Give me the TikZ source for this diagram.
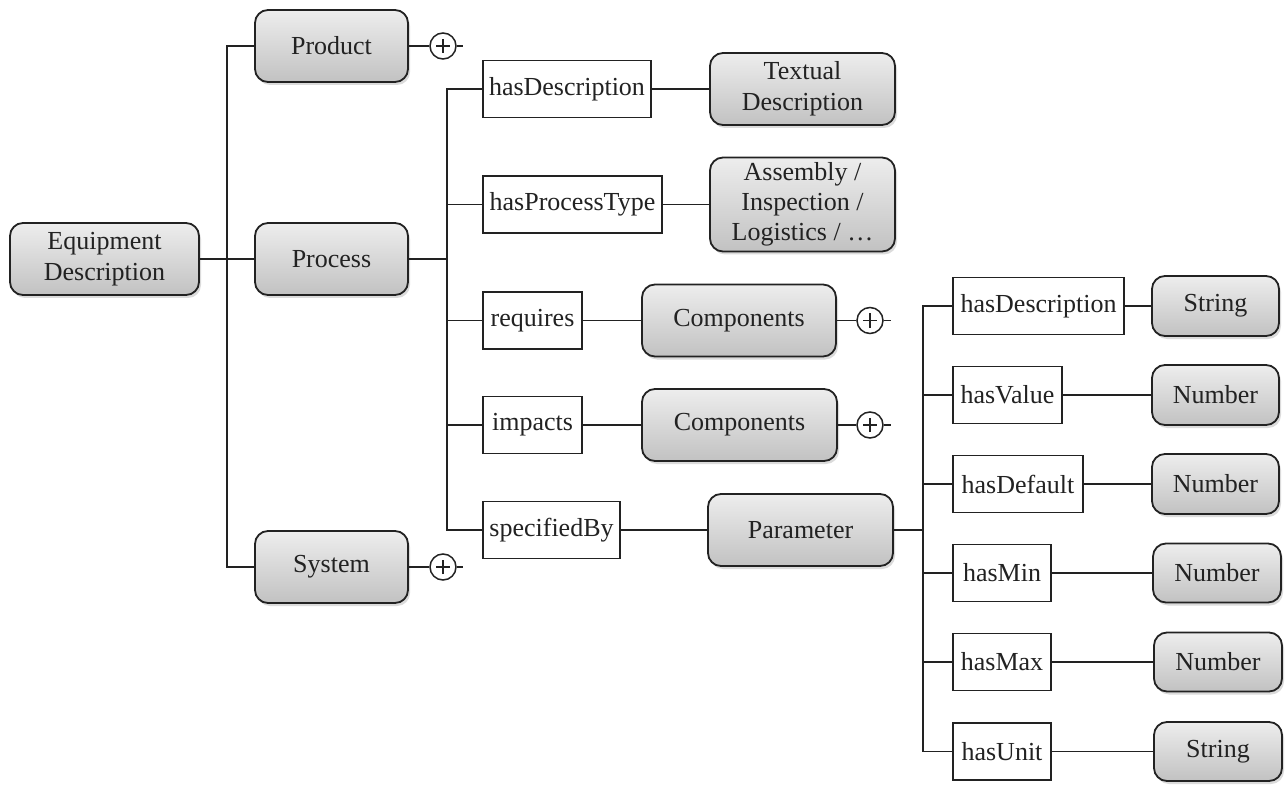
\documentclass[tikz,border=0pt]{standalone}
\usepackage{fontspec}
\setmainfont{Liberation Serif}
\usetikzlibrary{shadows}
\definecolor{ink}{HTML}{222222}
\tikzset{
  label font/.style={font=\fontsize{26}{31}\selectfont, text=ink, align=center},
  concept/.style={label font, draw=ink, line width=1.8pt, rounded corners=13pt,
    top color=gray!14, bottom color=gray!48, inner sep=0pt,
    drop shadow={shadow xshift=2pt, shadow yshift=-3pt, opacity=0.35, fill=gray!80}},
  relation/.style={label font, draw=ink, line width=1.6pt, fill=white, inner sep=0pt},
  link/.style={draw=ink, line width=1.6pt},
  trunk/.style={draw=ink, line width=2.6pt},
  more/.style={circle, draw=ink, line width=1.5pt, minimum size=26pt, inner sep=0pt, fill=white,
    path picture={
      \draw[ink, line width=1.4pt] ([xshift=-7pt]path picture bounding box.center) -- ([xshift=7pt]path picture bounding box.center);
      \draw[ink, line width=1.4pt] ([yshift=-7pt]path picture bounding box.center) -- ([yshift=7pt]path picture bounding box.center);
    }},
}
\begin{document}
\begin{tikzpicture}[x=1pt, y=-1pt]
\useasboundingbox[fill=white] (0,0) rectangle (1285,786);

% root and first level
\node[concept, minimum width=189pt, minimum height=72pt] (eq) at (104.5,259) {Equipment\\Description};
\node[concept, minimum width=153pt, minimum height=72pt] (product) at (331.5,46) {Product};
\node[concept, minimum width=153pt, minimum height=72pt] (process) at (331.5,259) {Process};
\node[concept, minimum width=153pt, minimum height=72pt] (system) at (331.5,567) {System};

% process relations
\node[relation, minimum width=168pt, minimum height=57pt] (hd1) at (567,89) {hasDescription};
\node[relation, minimum width=179pt, minimum height=57pt] (hpt) at (572.5,204.5) {hasProcessType};
\node[relation, minimum width=99pt, minimum height=57pt] (req) at (532.5,320.5) {requires};
\node[relation, minimum width=99pt, minimum height=57pt] (imp) at (532.5,425) {impacts};
\node[relation, minimum width=137pt, minimum height=57pt] (spec) at (551.5,530) {specifiedBy};

\node[concept, minimum width=185pt, minimum height=72pt] (txt) at (802.5,89) {Textual\\Description};
\node[concept, minimum width=185pt, minimum height=94pt, font=\fontsize{26}{30}\selectfont] (asm) at (802.5,204.5) {Assembly /\\Inspection /\\Logistics / …};
\node[concept, minimum width=194pt, minimum height=72pt] (comp1) at (739,320.5) {Components};
\node[concept, minimum width=195pt, minimum height=72pt] (comp2) at (739.5,425) {Components};
\node[concept, minimum width=185pt, minimum height=72pt] (param) at (800.5,530) {Parameter};

% parameter relations
\node[relation, minimum width=171pt, minimum height=57pt] (hd2) at (1038.5,306) {hasDescription};
\node[relation, minimum width=109pt, minimum height=57pt] (hv) at (1007.5,395) {hasValue};
\node[relation, minimum width=130pt, minimum height=57pt] (hdef) at (1018,484) {hasDefault};
\node[relation, minimum width=98pt, minimum height=57pt] (hmin) at (1002,573) {hasMin};
\node[relation, minimum width=98pt, minimum height=57pt] (hmax) at (1002,662) {hasMax};
\node[relation, minimum width=98pt, minimum height=57pt] (hu) at (1002,751.5) {hasUnit};

\node[concept, minimum width=127pt, minimum height=60pt] (str1) at (1215.5,306) {String};
\node[concept, minimum width=127pt, minimum height=60pt] (n1) at (1215.5,395) {Number};
\node[concept, minimum width=127pt, minimum height=60pt] (n2) at (1215.5,484) {Number};
\node[concept, minimum width=128pt, minimum height=59pt] (n3) at (1217,573) {Number};
\node[concept, minimum width=128pt, minimum height=59pt] (n4) at (1218,662) {Number};
\node[concept, minimum width=128pt, minimum height=59pt] (str2) at (1218,751.5) {String};

% expansion markers
\node[more] (p1) at (443,46) {};
\node[more] (p2) at (443,567) {};
\node[more] (p3) at (870,320.5) {};
\node[more] (p4) at (870,425) {};
\coordinate (e1) at (463,46);
\coordinate (e2) at (463,567);
\coordinate (e3) at (891,320.5);
\coordinate (e4) at (891,425);

% bus junctions
\coordinate (jE) at (227,259);
\coordinate (tS) at (227,567);
\coordinate (bBot) at (447,530);
\coordinate (qBot) at (923,751.5);

% first level tree
\draw[trunk] (eq.east) -- (jE);
\draw[link] (product.west) -| (tS) -- (system.west);
\draw[link] (jE) -- (process.west);

% process tree
\draw[trunk] (process.east) -- (process.east -| bBot);
\draw[link] (hd1.west) -| (bBot) -- (spec.west);
\draw[link] (hpt.west) -- (hpt.west -| bBot);
\draw[link] (req.west) -- (req.west -| bBot);
\draw[link] (imp.west) -- (imp.west -| bBot);
\draw[link] (hd1.east) -- (txt.west);
\draw[link] (hpt.east) -- (asm.west);
\draw[link] (req.east) -- (comp1.west);
\draw[link] (imp.east) -- (comp2.west);
\draw[link] (spec.east) -- (param.west);

% parameter tree
\draw[trunk] (param.east) -- (param.east -| qBot);
\draw[link] (hd2.west) -| (qBot) -- (hu.west);
\draw[link] (hv.west) -- (hv.west -| qBot);
\draw[link] (hdef.west) -- (hdef.west -| qBot);
\draw[link] (hmin.west) -- (hmin.west -| qBot);
\draw[link] (hmax.west) -- (hmax.west -| qBot);
\draw[link] (hd2.east) -- (str1.west);
\draw[link] (hv.east) -- (n1.west);
\draw[link] (hdef.east) -- (n2.west);
\draw[link] (hmin.east) -- (n3.west);
\draw[link] (hmax.east) -- (n4.west);
\draw[link] (hu.east) -- (str2.west);

% expansion marker links
\draw[link] (product.east) -- (p1);
\draw[link] (p1.east) -- (e1);
\draw[link] (system.east) -- (p2);
\draw[link] (p2.east) -- (e2);
\draw[link] (comp1.east) -- (p3);
\draw[link] (p3.east) -- (e3);
\draw[link] (comp2.east) -- (p4);
\draw[link] (p4.east) -- (e4);
\end{tikzpicture}
\end{document}
